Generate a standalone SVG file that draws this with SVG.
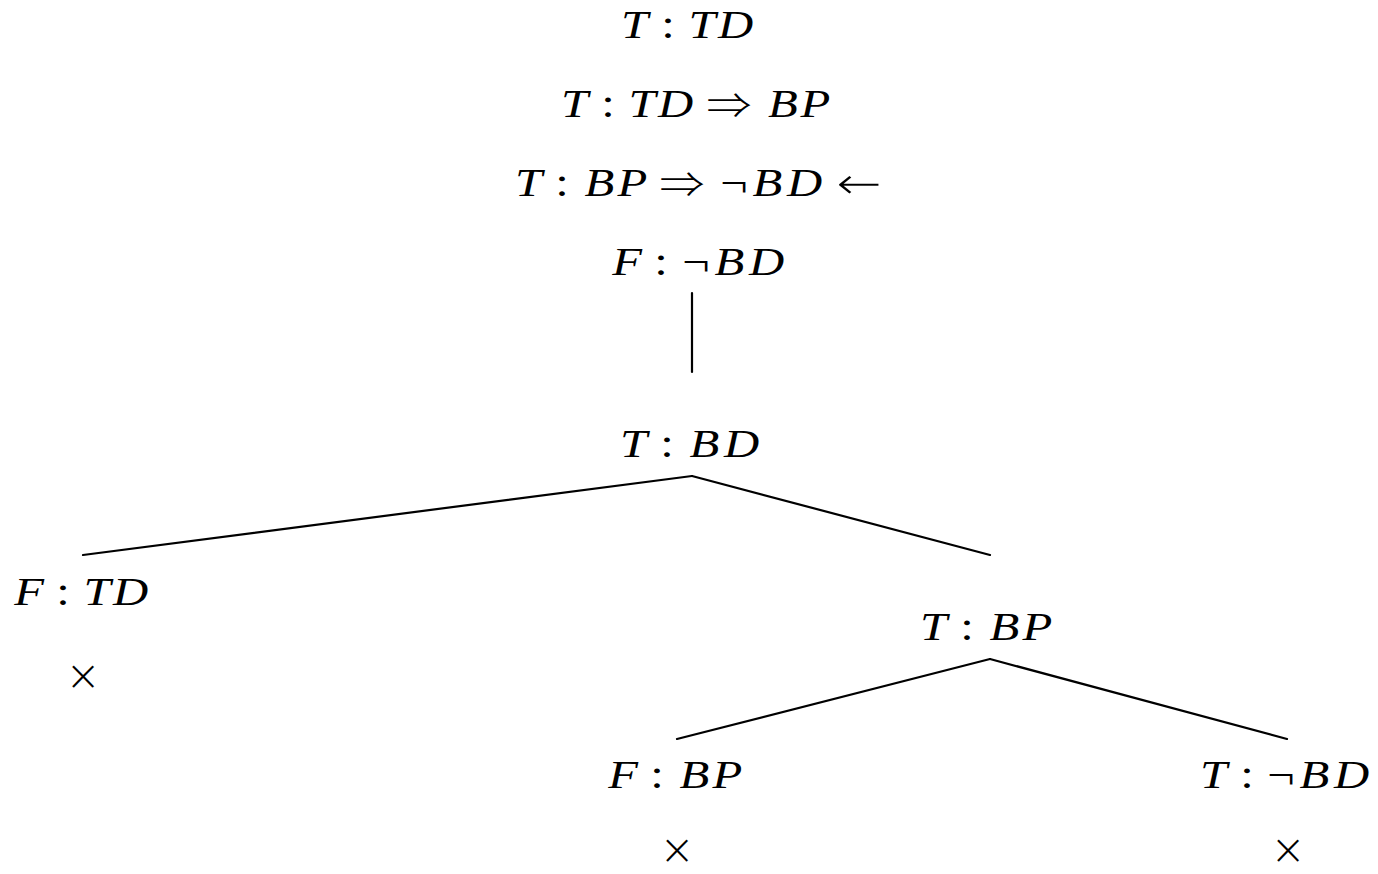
<svg xmlns="http://www.w3.org/2000/svg" width="1378" height="874" viewBox="0 0 1378 874">
<style>
.f{font-family:"Liberation Serif","DejaVu Serif",serif;font-size:39px;font-style:italic;fill:#000;text-anchor:middle}
.u{font-style:normal}
.a{font-family:"Noto Sans CJK JP","DejaVu Sans",sans-serif;font-style:normal;font-weight:300;font-size:36px}
.l{font-family:"DejaVu Sans","Liberation Sans",sans-serif;font-style:normal;font-weight:200;font-size:43px}
.x{font-family:"DejaVu Sans","Liberation Sans",sans-serif;font-weight:200;font-size:42px;fill:#000;text-anchor:middle}
.e{stroke:#000;stroke-width:2.2;fill:none;stroke-linecap:round}
</style>
<rect width="1378" height="874" fill="#fff"/>
<g id="n1"><text class="f" y="38" transform="scale(1.25 1)"><tspan x="507.6">T</tspan><tspan class="u" x="534.4">:</tspan><tspan x="561.6">T</tspan><tspan x="588.4">D</tspan></text></g>
<g id="n2"><text class="f" y="117" transform="scale(1.25 1)"><tspan x="459.6">T</tspan><tspan class="u" x="486.4">:</tspan><tspan x="513.6">T</tspan><tspan x="540.4">D</tspan><tspan class="a" x="583.2" y="119">⇒</tspan><tspan x="626.3" y="117">B</tspan><tspan x="652.4">P</tspan></text></g>
<g id="n3"><text class="f" y="196" transform="scale(1.25 1)"><tspan x="422.8">T</tspan><tspan class="u" x="449.6">:</tspan><tspan x="479.6">B</tspan><tspan x="506">P</tspan><tspan class="a" x="545.6" y="198">⇒</tspan><tspan class="u" x="587.2" y="196">¬</tspan><tspan x="614">B</tspan><tspan x="643.6">D</tspan><tspan class="l" x="687.2" y="198.5">←</tspan></text></g>
<g id="n4"><text class="f" y="275" transform="scale(1.25 1)"><tspan x="501.8">F</tspan><tspan class="u" x="528.8">:</tspan><tspan class="u" x="556.8">¬</tspan><tspan x="583.6">B</tspan><tspan x="613.2">D</tspan></text></g>
<g id="n5"><text class="f" y="457" transform="scale(1.25 1)"><tspan x="506.8">T</tspan><tspan class="u" x="533.6">:</tspan><tspan x="563.6">B</tspan><tspan x="593.2">D</tspan></text></g>
<g id="n6"><text class="f" y="605" transform="scale(1.25 1)"><tspan x="23.4">F</tspan><tspan class="u" x="50.4">:</tspan><tspan x="77.6">T</tspan><tspan x="104.4">D</tspan></text>
<text class="x" x="83" y="690">×</text></g>
<g id="n7"><text class="f" y="640" transform="scale(1.25 1)"><tspan x="746.8">T</tspan><tspan class="u" x="773.6">:</tspan><tspan x="803.6">B</tspan><tspan x="830">P</tspan></text></g>
<g id="n8"><text class="f" y="788" transform="scale(1.25 1)"><tspan x="498.6">F</tspan><tspan class="u" x="525.6">:</tspan><tspan x="555.6">B</tspan><tspan x="582">P</tspan></text>
<text class="x" x="677" y="864">×</text></g>
<g id="n9"><text class="f" y="788" transform="scale(1.25 1)"><tspan x="970.8">T</tspan><tspan class="u" x="997.6">:</tspan><tspan class="u" x="1024.8">¬</tspan><tspan x="1051.6">B</tspan><tspan x="1081.2">D</tspan></text>
<text class="x" x="1288" y="864">×</text></g>
<g id="edges">
<line class="e" x1="692" y1="293" x2="692" y2="372"/>
<line class="e" x1="692" y1="476" x2="83" y2="555"/>
<line class="e" x1="692" y1="476" x2="990" y2="555"/>
<line class="e" x1="990" y1="659" x2="677" y2="739"/>
<line class="e" x1="990" y1="659" x2="1287" y2="739"/>
</g>
</svg>
